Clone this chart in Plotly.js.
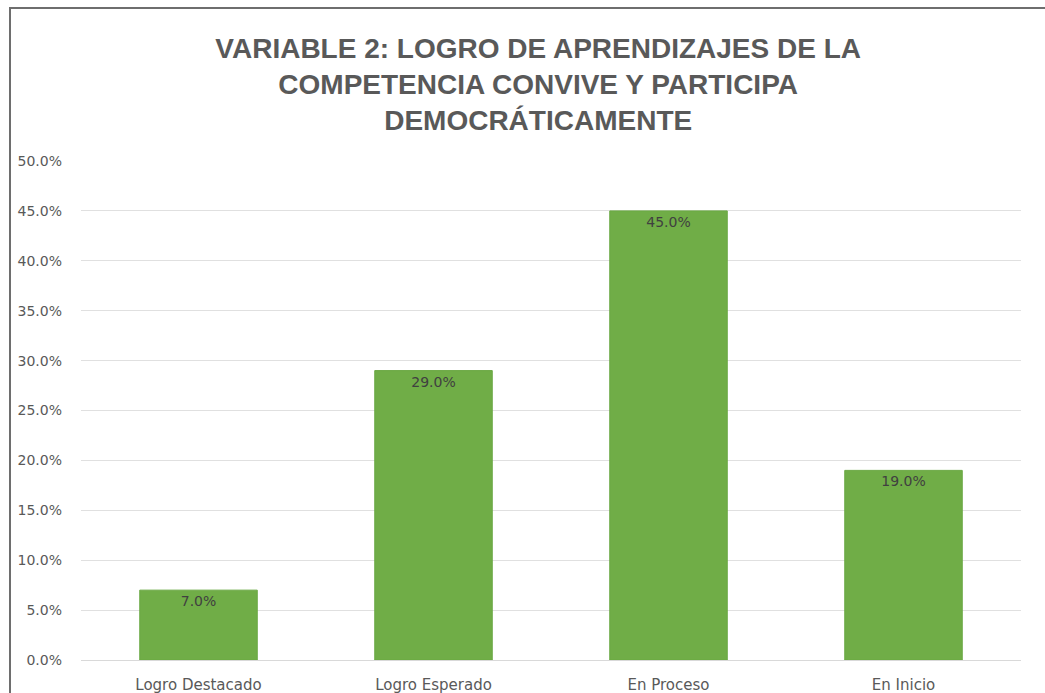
<!DOCTYPE html>
<html><head><meta charset="utf-8">
<script src="https://cdn.plot.ly/plotly-3.0.1.min.js"></script>
<style>
html,body{margin:0;padding:0;background:#fff;overflow:hidden;}
#frame{position:absolute;left:9px;top:7px;width:1100px;height:720px;border-left:2px solid #6e6e6e;border-top:2px solid #6e6e6e;}
#chart{position:absolute;left:0;top:0;width:1045px;height:693px;}
</style></head>
<body>
<div id="chart"></div>
<div id="frame"></div>
<script>
const categories = ["Logro Destacado", "Logro Esperado", "En Proceso", "En Inicio"];
const values = [0.07, 0.29, 0.45, 0.19];
const yTicks = [0, 0.05, 0.10, 0.15, 0.20, 0.25, 0.30, 0.35, 0.40, 0.45, 0.50];
const titleText = "VARIABLE 2: LOGRO DE APRENDIZAJES DE LA<br>COMPETENCIA CONVIVE Y PARTICIPA<br>DEMOCRÁTICAMENTE";

const trace = {
  type: "bar",
  x: categories,
  y: values,
  marker: {color: "#70ad47", line: {color: "#6aa843", width: 1}},
  texttemplate: "%{y:.1%}",
  textposition: "inside",
  insidetextanchor: "end",
  textangle: 0,
  textfont: {family: "DejaVu Sans", size: 14, color: "#404040"},
  hoverinfo: "none"
};

const layout = {
  width: 1045, height: 693,
  margin: {l: 81, r: 24, t: 161, b: 33},
  paper_bgcolor: "#ffffff",
  plot_bgcolor: "#ffffff",
  bargap: 0.5,
  showlegend: false,
  title: {
    text: titleText,
    x: 0.515, xanchor: "center",
    y: 0.917, yanchor: "top",
    font: {family: "Liberation Sans, Arial, sans-serif", size: 28, color: "#595959", weight: "bold"}
  },
  xaxis: {
    type: "category",
    showgrid: false,
    showline: true, linecolor: "#d9d9d9", linewidth: 1,
    ticks: "", ticklabelstandoff: 11,
    tickfont: {family: "DejaVu Sans", size: 15, color: "#595959"},
    fixedrange: true
  },
  yaxis: {
    range: [0, 0.5],
    tickvals: yTicks,
    tickformat: ".1%",
    showgrid: true, gridcolor: "#e0e0e0", gridwidth: 1,
    zeroline: false, showline: false,
    ticks: "", ticklabelstandoff: 18,
    tickfont: {family: "DejaVu Sans", size: 14, color: "#595959"},
    fixedrange: true
  }
};

Plotly.newPlot("chart", [trace], layout, {displayModeBar: false, staticPlot: true});
</script>
</body></html>
